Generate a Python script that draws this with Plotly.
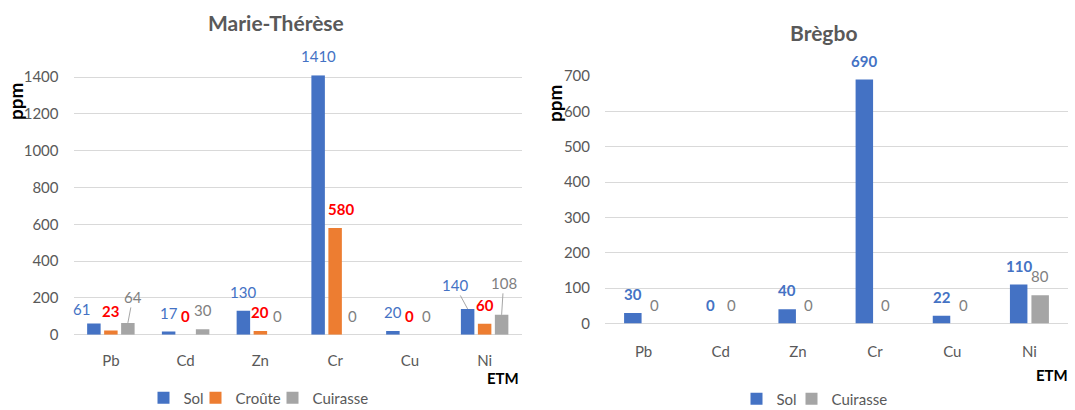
import plotly.graph_objects as go

# ---- data -------------------------------------------------------------
categories = ["Pb", "Cd", "Zn", "Cr", "Cu", "Ni"]

mt_sol = [61, 17, 130, 1410, 20, 140]
mt_croute = [23, 0, 20, 580, 0, 60]
mt_cuirasse = [64, 30, 0, 0, 0, 108]

br_sol = [30, 0, 40, 690, 22, 110]
br_cuirasse = [0, 0, 0, 0, 0, 80]

# ---- styles -----------------------------------------------------------
FONT = "Lato"
C_SOL = "#4472C4"
C_CROUTE = "#ED7D31"
C_CUIR = "#A5A5A5"
TXT_GREY = "#595959"
GRID = "#D9D9D9"

W, H = 1075, 410

# plot areas in pixels (left, right, top, bottom)
LEFT_PX = (73.5, 522, 75.2, 334.7)
RIGHT_PX = (605, 1068, 76, 323.5)


def xdom(p):
    return [p[0] / W, p[1] / W]


def ydom(p):
    return [(H - p[3]) / H, (H - p[2]) / H]


# bar slot / width in category units
LEFT_SLOT, LEFT_BW = 17 / 74.8, 13.5 / 74.8
RIGHT_SLOT, RIGHT_BW = 21.5 / 77.2, 17.5 / 77.2

fig = go.Figure()


def add_group(series, slot, bw, xa, ya, legend):
    n = len(series)
    for j, (name, vals, color, _lbl, lw) in enumerate(series):
        centre = (j - (n - 1) / 2) * slot
        fig.add_trace(go.Bar(
            x=categories, y=vals, name=name,
            marker=dict(color=color, line=dict(width=0)),
            width=bw, offset=centre - bw / 2,
            xaxis=xa, yaxis=ya, legend=legend, legendwidth=lw,
            hoverinfo="skip",
        ))


left_series = [
    ("Sol", mt_sol, C_SOL, dict(color=C_SOL, weight="normal"), 7),
    ("Croûte", mt_croute, C_CROUTE, dict(color="#FF0000", weight="bold"), 32),
    ("Cuirasse", mt_cuirasse, C_CUIR, dict(color="#7F7F7F", weight="normal"), 55),
]
right_series = [
    ("Sol", br_sol, C_SOL, dict(color=C_SOL, weight="bold"), 10),
    ("Cuirasse", br_cuirasse, C_CUIR, dict(color="#7F7F7F", weight="normal"), 55),
]

add_group(left_series, LEFT_SLOT, LEFT_BW, "x", "y", "legend")
add_group(right_series, RIGHT_SLOT, RIGHT_BW, "x2", "y2", "legend2")

# ---- data labels --------------------------------------------------------
LABEL_LIFT = 19  # px from bar top to label centre

# label nudges (dx, dy up) and leader-line labels (ax, ay) for the left chart
left_nudge = {("Sol", "Pb"): (-12, -4.5), ("Croûte", "Cr"): (6, 0)}
left_leader = {("Cuirasse", "Pb"): (5, -26), ("Sol", "Ni"): (-13, -24),
               ("Cuirasse", "Ni"): (2, -32)}

annotations = []


def add_labels(series, slot, xref, yref, nudge, leader):
    n = len(series)
    for j, (name, vals, _c, lbl, _lw) in enumerate(series):
        centre = (j - (n - 1) / 2) * slot
        for i, (cat, v) in enumerate(zip(categories, vals)):
            font = dict(family=FONT, size=15, color=lbl["color"], weight=lbl["weight"])
            key = (name, cat)
            if key in leader:
                ax, ay = leader[key]
                annotations.append(dict(
                    x=i + centre, y=v, xref=xref, yref=yref, text=str(v),
                    showarrow=True, arrowhead=0, arrowwidth=1, arrowcolor="#A6A6A6",
                    ax=ax, ay=ay, font=font,
                ))
            else:
                dx, dy = nudge.get(key, (0, 0))
                annotations.append(dict(
                    x=i + centre, y=v, xref=xref, yref=yref, text=str(v),
                    showarrow=False, xanchor="center", yanchor="middle",
                    xshift=dx, yshift=LABEL_LIFT + dy, font=font,
                ))


add_labels(left_series, LEFT_SLOT, "x", "y", left_nudge, left_leader)
add_labels(right_series, RIGHT_SLOT, "x2", "y2", {}, {})

# ---- titles and axis captions -------------------------------------------
def paper_text(text, xpx, ypx, size, color, weight="bold", angle=0):
    annotations.append(dict(
        x=xpx / W, y=(H - ypx) / H, xref="paper", yref="paper", text=text,
        showarrow=False, xanchor="center", yanchor="middle", textangle=angle,
        font=dict(family=FONT, size=size, color=color, weight=weight),
    ))


paper_text("Marie-Thérèse", 276, 22, 21, TXT_GREY)
paper_text("Brègbo", 823, 33, 21, TXT_GREY)
paper_text("ppm", 15, 101, 19, "#000000", angle=-90)
paper_text("ppm", 554, 103, 19, "#000000", angle=-90)
paper_text("ETM", 503, 378, 15, "#000000")
paper_text("ETM", 1052, 375, 15, "#000000")

# ---- axes ----------------------------------------------------------------
tickfont = dict(family=FONT, size=15, color=TXT_GREY)

xcommon = dict(type="category", showgrid=False, zeroline=False, showline=False,
               ticks="", tickfont=tickfont, fixedrange=True)
ycommon = dict(showgrid=True, gridcolor=GRID, gridwidth=1, zeroline=True,
               zerolinecolor=GRID, zerolinewidth=1, showline=False, ticks="",
               tickfont=tickfont, ticklabelstandoff=14, fixedrange=True)

legend_common = dict(orientation="h", xanchor="center", yanchor="middle",
                     font=dict(family=FONT, size=15, color=TXT_GREY),
                     itemwidth=30, bgcolor="rgba(0,0,0,0)", traceorder="normal")

fig.update_layout(
    width=W, height=H,
    margin=dict(l=0, r=0, t=0, b=0, autoexpand=False),
    paper_bgcolor="white", plot_bgcolor="white",
    barmode="overlay",
    showlegend=True,
    font=dict(family=FONT, color=TXT_GREY),
    xaxis=dict(domain=xdom(LEFT_PX), anchor="y", range=[-0.5, 5.5],
               ticklabelstandoff=15, **xcommon),
    yaxis=dict(domain=ydom(LEFT_PX), anchor="x", range=[0, 1410],
               tick0=0, dtick=200, **ycommon),
    xaxis2=dict(domain=xdom(RIGHT_PX), anchor="y2", range=[-0.5, 5.5],
                ticklabelstandoff=17, **xcommon),
    yaxis2=dict(domain=ydom(RIGHT_PX), anchor="x2", range=[0, 700],
                tick0=0, dtick=100, **ycommon),
    legend=dict(x=258 / W, y=(H - 398) / H, **legend_common),
    legend2=dict(x=814 / W, y=(H - 399) / H, **legend_common),
    annotations=annotations,
)

fig.write_html("out.html", config={"displayModeBar": False})
